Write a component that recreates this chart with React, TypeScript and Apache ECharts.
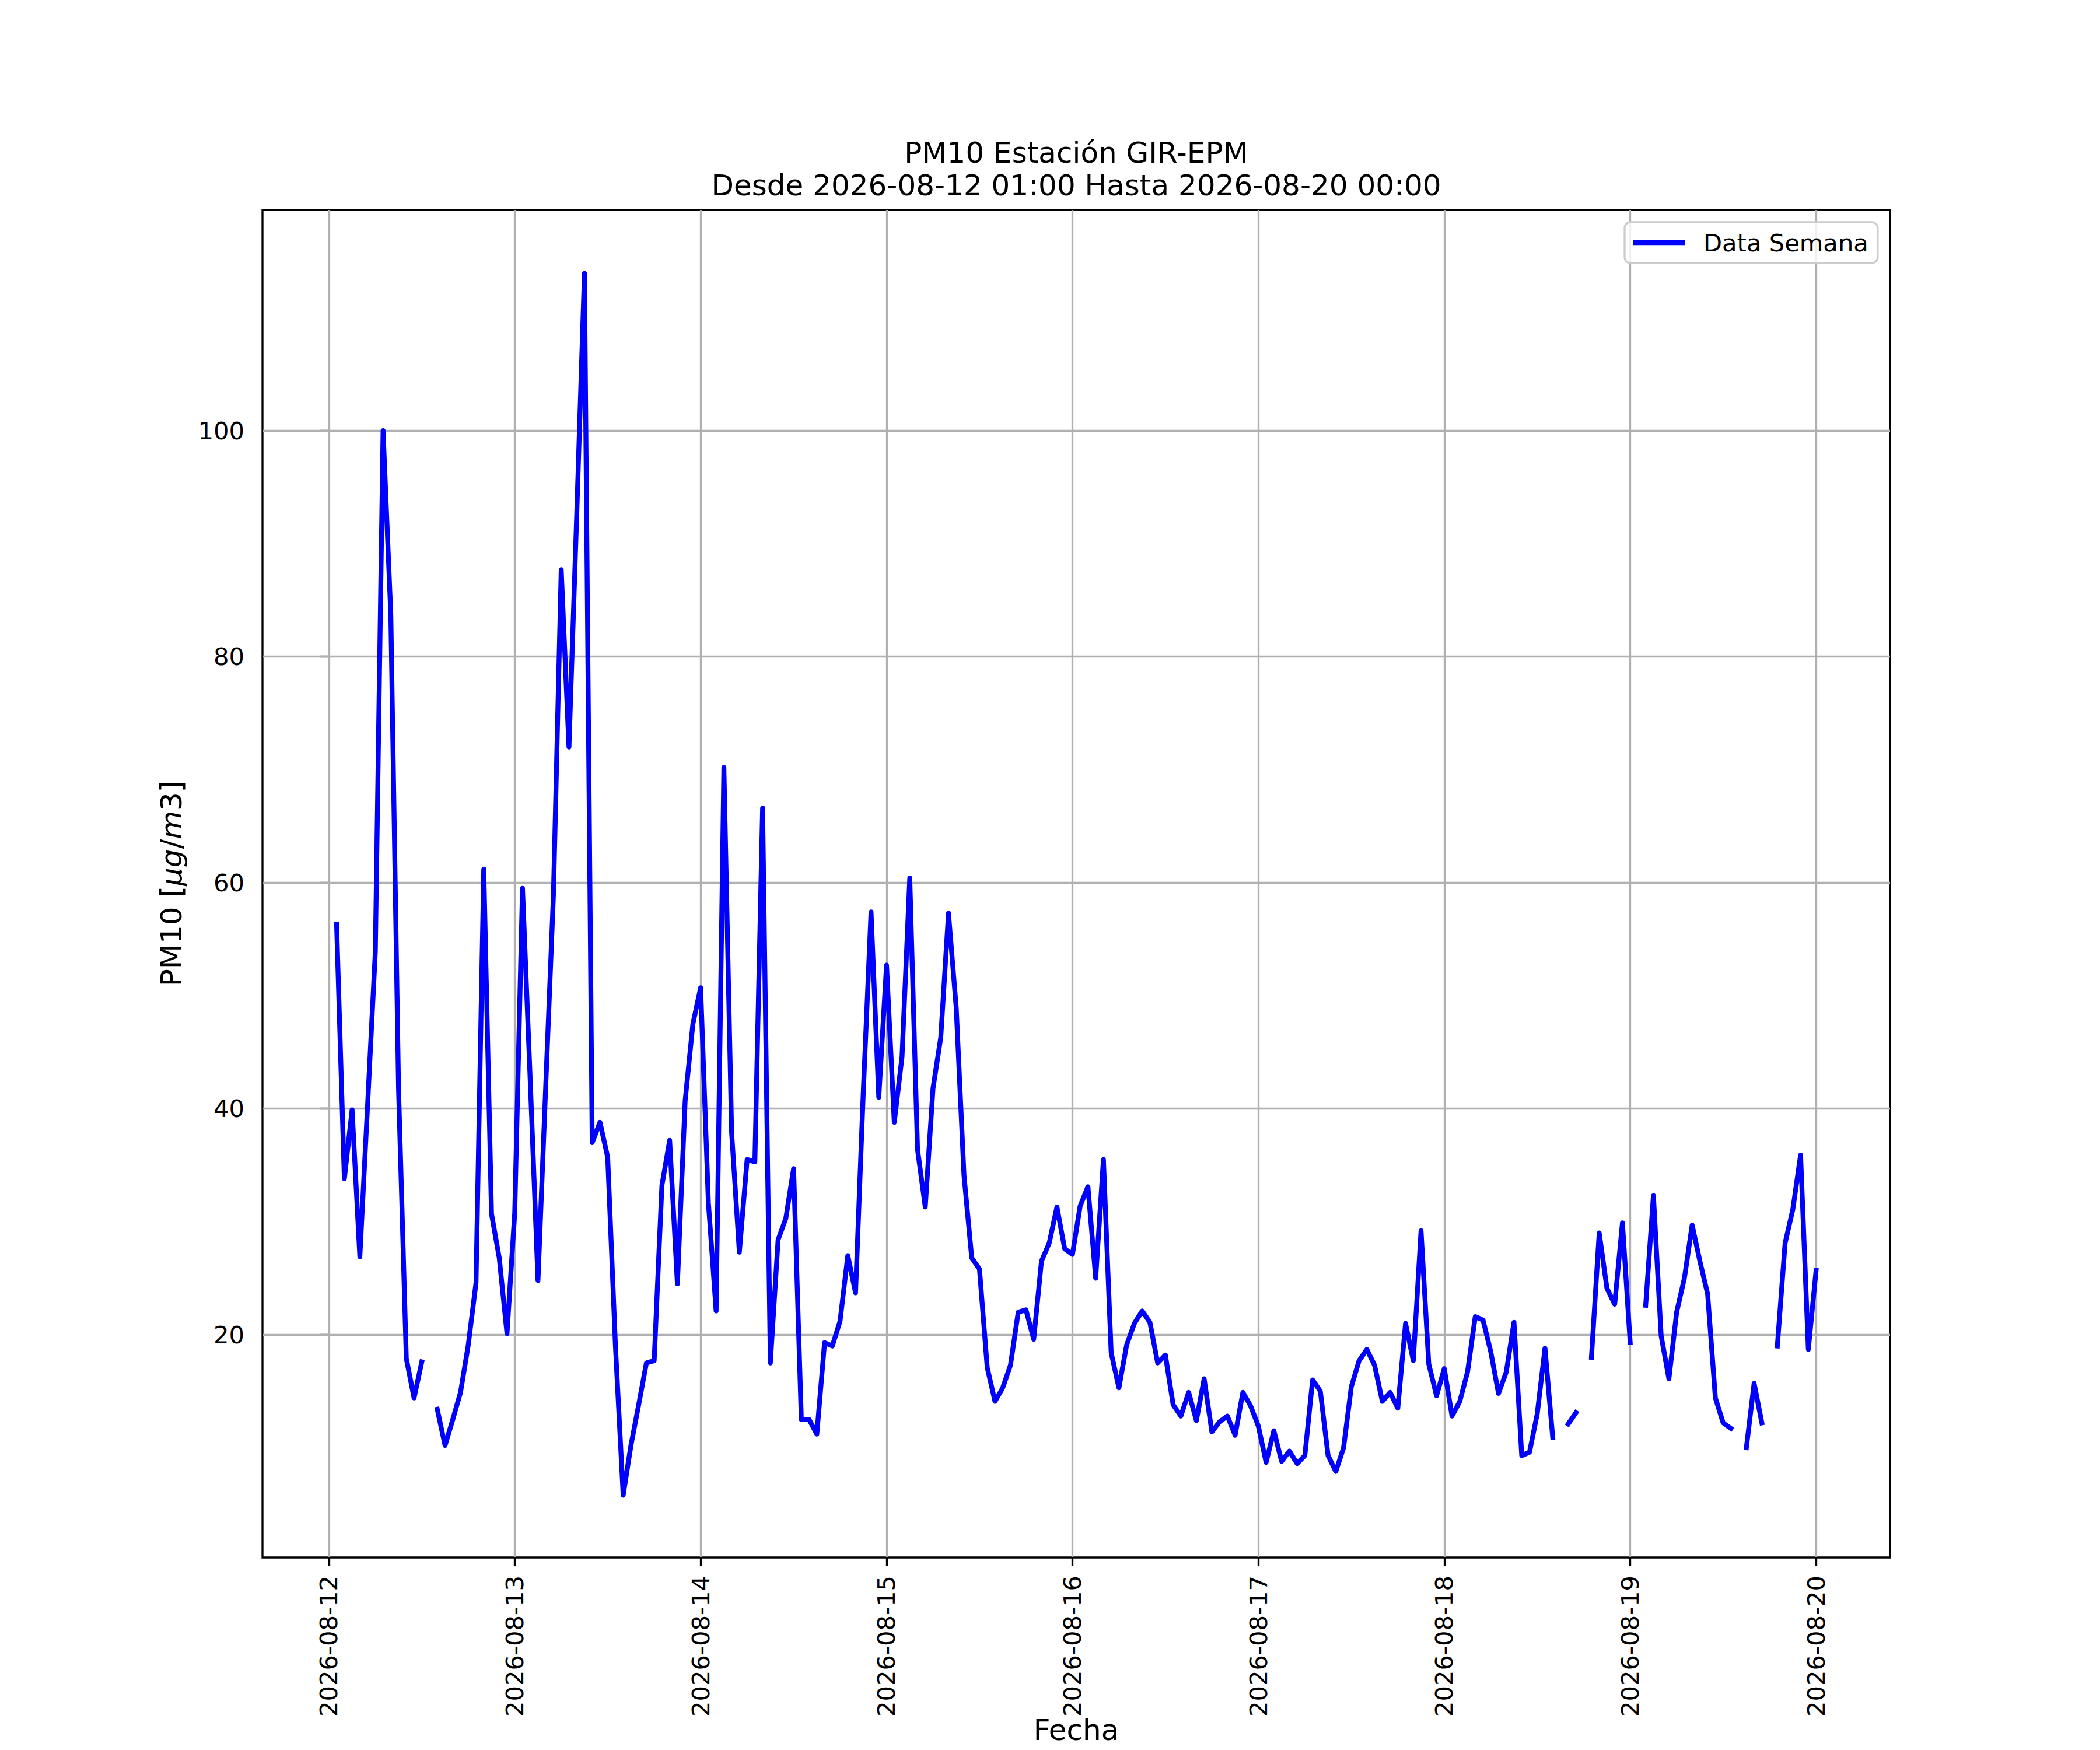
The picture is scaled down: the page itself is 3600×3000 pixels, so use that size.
import React, { useEffect, useRef } from "react";
import * as echarts from "echarts";

// Hourly PM10 values, 2026-08-12 01:00 .. 2026-08-20 00:00 (null = missing)
const day12 = [56.3, 33.8, 39.9, 26.9, 40.3, 53.9, 100.0, 83.7, 41.7, 17.9, 14.4, 17.6, null, 13.4, 10.2, 12.5, 14.9, 19.1, 24.6, 61.2, 30.7, 26.8, 20.1, 30.8];
const day13 = [59.5, 42.5, 24.8, 42.0, 59.0, 87.7, 72.0, 92.5, 113.9, 37.0, 38.8, 35.7, 19.0, 5.8, 10.2, 13.8, 17.5, 17.7, 33.2, 37.2, 24.5, 40.7, 47.5, 50.7];
const day14 = [31.7, 22.1, 70.2, 37.9, 27.3, 35.5, 35.3, 66.6, 17.5, 28.4, 30.3, 34.7, 12.5, 12.5, 11.2, 19.3, 19.0, 21.2, 27.0, 23.7, 41.5, 57.4, 41.0, 52.7];
const day15 = [38.8, 44.6, 60.4, 36.4, 31.3, 41.8, 46.3, 57.3, 48.9, 34.1, 26.8, 25.8, 17.1, 14.1, 15.3, 17.3, 22.0, 22.2, 19.6, 26.5, 28.1, 31.3, 27.6, 27.1];
const day16 = [31.4, 33.1, 25.0, 35.5, 18.4, 15.3, 19.1, 21.0, 22.1, 21.1, 17.5, 18.2, 13.8, 12.8, 14.9, 12.4, 16.1, 11.4, 12.3, 12.8, 11.1, 14.9, 13.7, 11.9];
const day17 = [8.7, 11.5, 8.8, 9.7, 8.6, 9.3, 16.0, 15.0, 9.3, 7.9, 10.0, 15.4, 17.7, 18.7, 17.3, 14.1, 14.9, 13.5, 21.0, 17.7, 29.2, 17.4, 14.6, 17.0];
const day18 = [12.8, 14.1, 16.7, 21.6, 21.3, 18.5, 14.8, 16.7, 21.1, 9.3, 9.6, 13.0, 18.8, 10.9, null, 12.1, 13.1, null, 18.0, 29.0, 24.1, 22.7, 29.9, 19.3];
const day19 = [null, 22.6, 32.3, 19.9, 16.1, 22.0, 25.0, 29.7, 26.5, 23.6, 14.4, 12.2, 11.7, null, 10.0, 15.7, 12.2, null, 19.0, 28.1, 31.1, 35.9, 18.7, 25.7];

// tick labels (x: one per day at 00:00, hours since 2026-08-12 00:00)
const dayLabels = ["2026-08-12", "2026-08-13", "2026-08-14", "2026-08-15", "2026-08-16", "2026-08-17", "2026-08-18", "2026-08-19", "2026-08-20"];
const xTickHours = [0, 24, 48, 72, 96, 120, 144, 168, 192];
const yTicks = [20, 40, 60, 80, 100];

const titleLine1 = "PM10 Estación GIR-EPM";
const titleLine2 = "Desde 2026-08-12 01:00 Hasta 2026-08-20 00:00";
const seriesName = "Data Semana";

const FONT = "DejaVu Sans";
const TICK_FS = 41.67;
const LABEL_FS = 50;

export default function App() {
  const ref = useRef<HTMLDivElement>(null);

  useEffect(() => {
    if (!ref.current) return;
    const chart = echarts.init(ref.current, undefined, { renderer: "svg" });

    const values = [...day12, ...day13, ...day14, ...day15, ...day16, ...day17, ...day18, ...day19];
    const points = values.map((v, i) => [i + 1, v == null ? "-" : v]);

    const gridColor = "#b0b0b0";
    const gridW = 3.33;

    const option: any = {
      animation: false,
      backgroundColor: "#ffffff",
      grid: {
        left: 450,
        right: 360,
        top: 360,
        bottom: 330,
        show: true,
        borderColor: "#000000",
        borderWidth: 3.33,
        backgroundColor: "#ffffff",
        containLabel: false,
        outerBoundsMode: "none",
      },
      xAxis: {
        type: "value",
        min: -8.57,
        max: 201.55,
        axisLine: { show: false },
        splitLine: { show: false },
        axisTick: {
          show: true,
          customValues: xTickHours,
          length: 14.6,
          lineStyle: { color: "#000000", width: 3.33 },
        },
        axisLabel: {
          show: true,
          customValues: xTickHours,
          rotate: 90,
          margin: 31,
          fontSize: TICK_FS,
          fontFamily: FONT,
          color: "#000000",
          formatter: (v: number) => {
            const idx = xTickHours.indexOf(Math.round(v));
            return idx >= 0 ? dayLabels[idx] : "";
          },
        },
      },
      yAxis: {
        type: "value",
        min: 0.29,
        max: 119.52,
        axisLine: { show: false },
        splitLine: { show: false },
        axisTick: {
          show: true,
          customValues: yTicks,
          length: 14.6,
          lineStyle: { color: "#000000", width: 3.33 },
        },
        axisLabel: {
          show: true,
          customValues: yTicks,
          margin: 31,
          fontSize: TICK_FS,
          fontFamily: FONT,
          color: "#000000",
          formatter: (v: number) => String(Math.round(v)),
        },
      },
      legend: {
        show: true,
        data: [seriesName],
        left: 2785,
        top: 381,
        orient: "vertical",
        icon: "rect",
        itemWidth: 90,
        itemHeight: 8.33,
        padding: [14, 16, 14, 14],
        backgroundColor: "rgba(255,255,255,0.8)",
        borderColor: "#cccccc",
        borderWidth: 3.3,
        borderRadius: 10,
        selectedMode: false,
        textStyle: {
          fontSize: TICK_FS,
          fontFamily: FONT,
          color: "#000000",
          padding: [0, 0, 0, 26],
        },
      },
      series: [
        {
          name: seriesName,
          type: "line",
          data: points,
          z: 3,
          symbol: "none",
          showSymbol: false,
          connectNulls: false,
          lineStyle: { color: "#0000ff", width: 8.33, cap: "square", join: "round" },
          itemStyle: { color: "#0000ff" },
          emphasis: { disabled: true },
          markLine: {
            silent: true,
            z: 1,
            symbol: ["none", "none"],
            label: { show: false },
            emphasis: { disabled: true },
            lineStyle: { color: gridColor, width: gridW, type: "solid" },
            data: [
              ...xTickHours.map((h) => ({ xAxis: h })),
              ...yTicks.map((v) => ({ yAxis: v })),
            ],
          },
        },
      ],
      graphic: {
        elements: [
          {
            type: "text",
            x: 1845,
            y: 262,
            style: { text: titleLine1, fontSize: LABEL_FS, fontFamily: FONT, fill: "#000000", align: "center", verticalAlign: "middle" },
          },
          {
            type: "text",
            x: 1845,
            y: 317.5,
            style: { text: titleLine2, fontSize: LABEL_FS, fontFamily: FONT, fill: "#000000", align: "center", verticalAlign: "middle" },
          },
          {
            type: "text",
            x: 1845,
            y: 2966,
            style: { text: "Fecha", fontSize: LABEL_FS, fontFamily: FONT, fill: "#000000", align: "center", verticalAlign: "middle" },
          },
          {
            type: "text",
            x: 293.5,
            y: 1515,
            rotation: Math.PI / 2,
            style: {
              text: "{n|PM10 [}{i|μg}{n|/}{i|m}{n|3]}",
              rich: {
                n: { fontSize: LABEL_FS, fontFamily: FONT, fill: "#000000" },
                i: { fontSize: LABEL_FS, fontFamily: FONT, fontStyle: "italic", fill: "#000000" },
              },
              fontSize: LABEL_FS,
              fontFamily: FONT,
              fill: "#000000",
              align: "center",
              verticalAlign: "middle",
            },
          },
        ],
      },
    };

    chart.setOption(option);
    return () => {
      chart.dispose();
    };
  }, []);

  return (
    <div
      ref={ref}
      style={{ position: "absolute", left: 0, top: 0, width: 3600, height: 3000, background: "#ffffff" }}
    />
  );
}
